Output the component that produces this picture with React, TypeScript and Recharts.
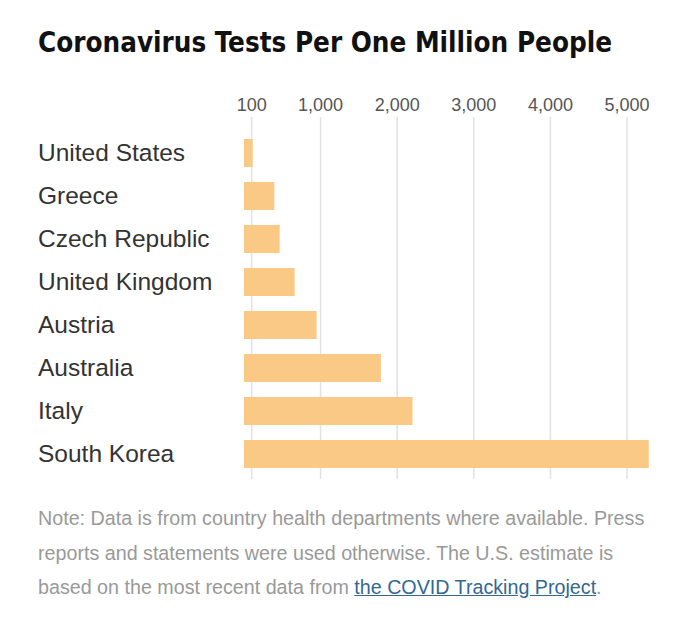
import { BarChart, Bar, XAxis, YAxis, CartesianGrid } from "recharts";

const countries = [
  "United States",
  "Greece",
  "Czech Republic",
  "United Kingdom",
  "Austria",
  "Australia",
  "Italy",
  "South Korea",
];

const testsPerMillion = [113, 396, 465, 661, 948, 1787, 2200, 5284];

const xTicks = [100, 1000, 2000, 3000, 4000, 5000];

const data = countries.map((name, i) => ({ name, tests: testsPerMillion[i] }));

const BAR_COLOR = "#f9c985";
const FONT = '"Liberation Sans", Arial, sans-serif';

const CountryTick = (props: any) => {
  const { y, payload } = props;
  return (
    <text x={38} y={y} dy="0.36em" fontSize={24.5} fill="#333" fontFamily={FONT}>
      {payload.value}
    </text>
  );
};

const ValueTick = (props: any) => {
  const { x, y, payload } = props;
  return (
    <text
      x={x}
      y={y}
      dy={2}
      textAnchor="middle"
      fontSize={18}
      fill="#555"
      fontFamily={FONT}
    >
      {payload.value.toLocaleString("en-US")}
    </text>
  );
};

export default function App() {
  return (
    <div
      style={{
        position: "relative",
        width: 680,
        height: 627,
        background: "#fff",
        fontFamily: FONT,
      }}
    >
      <style>{`body{margin:0}`}</style>

      {/* Title */}
      <svg
        width={680}
        height={70}
        style={{ position: "absolute", left: 0, top: 0 }}
      >
        <text
          x={38}
          y={52}
          fontSize={28}
          fontWeight="bold"
          fill="#111"
          fontFamily='"Liberation Sans Narrow", "DejaVu Sans Condensed", sans-serif'
          textLength={574}
          lengthAdjust="spacingAndGlyphs"
        >
          Coronavirus Tests Per One Million People
        </text>
      </svg>

      {/* Chart */}
      <div style={{ position: "absolute", left: 0, top: 0 }}>
        <BarChart
          width={680}
          height={480}
          data={data}
          layout="vertical"
          margin={{ top: 87, right: 30, left: 0, bottom: 1 }}
        >
          <CartesianGrid
            horizontal={false}
            verticalValues={xTicks}
            stroke="#e2e2e2"
            strokeWidth={1.5}
          />
          <XAxis
            type="number"
            orientation="top"
            domain={[0, 5300]}
            ticks={xTicks}
            axisLine={false}
            tickLine={false}
            height={30}
            tick={<ValueTick />}
            interval={0}
          />
          <YAxis
            type="category"
            dataKey="name"
            width={244}
            axisLine={false}
            tickLine={false}
            tick={<CountryTick />}
            padding={{ top: 14, bottom: 4 }}
            interval={0}
          />
          <Bar
            dataKey="tests"
            fill={BAR_COLOR}
            barSize={28}
            isAnimationActive={false}
          />
        </BarChart>
      </div>

      {/* Note */}
      <div
        style={{
          position: "absolute",
          left: 38,
          top: 501,
          fontSize: 19.7,
          lineHeight: "34.5px",
          color: "#999",
          whiteSpace: "nowrap",
        }}
      >
        Note: Data is from country health departments where available. Press
        <br />
        reports and statements were used otherwise. The U.S. estimate is
        <br />
        based on the most recent data from{" "}
        <a
          href="#"
          style={{ color: "#326891", textDecoration: "underline" }}
        >
          the COVID Tracking Project
        </a>
        .
      </div>
    </div>
  );
}
